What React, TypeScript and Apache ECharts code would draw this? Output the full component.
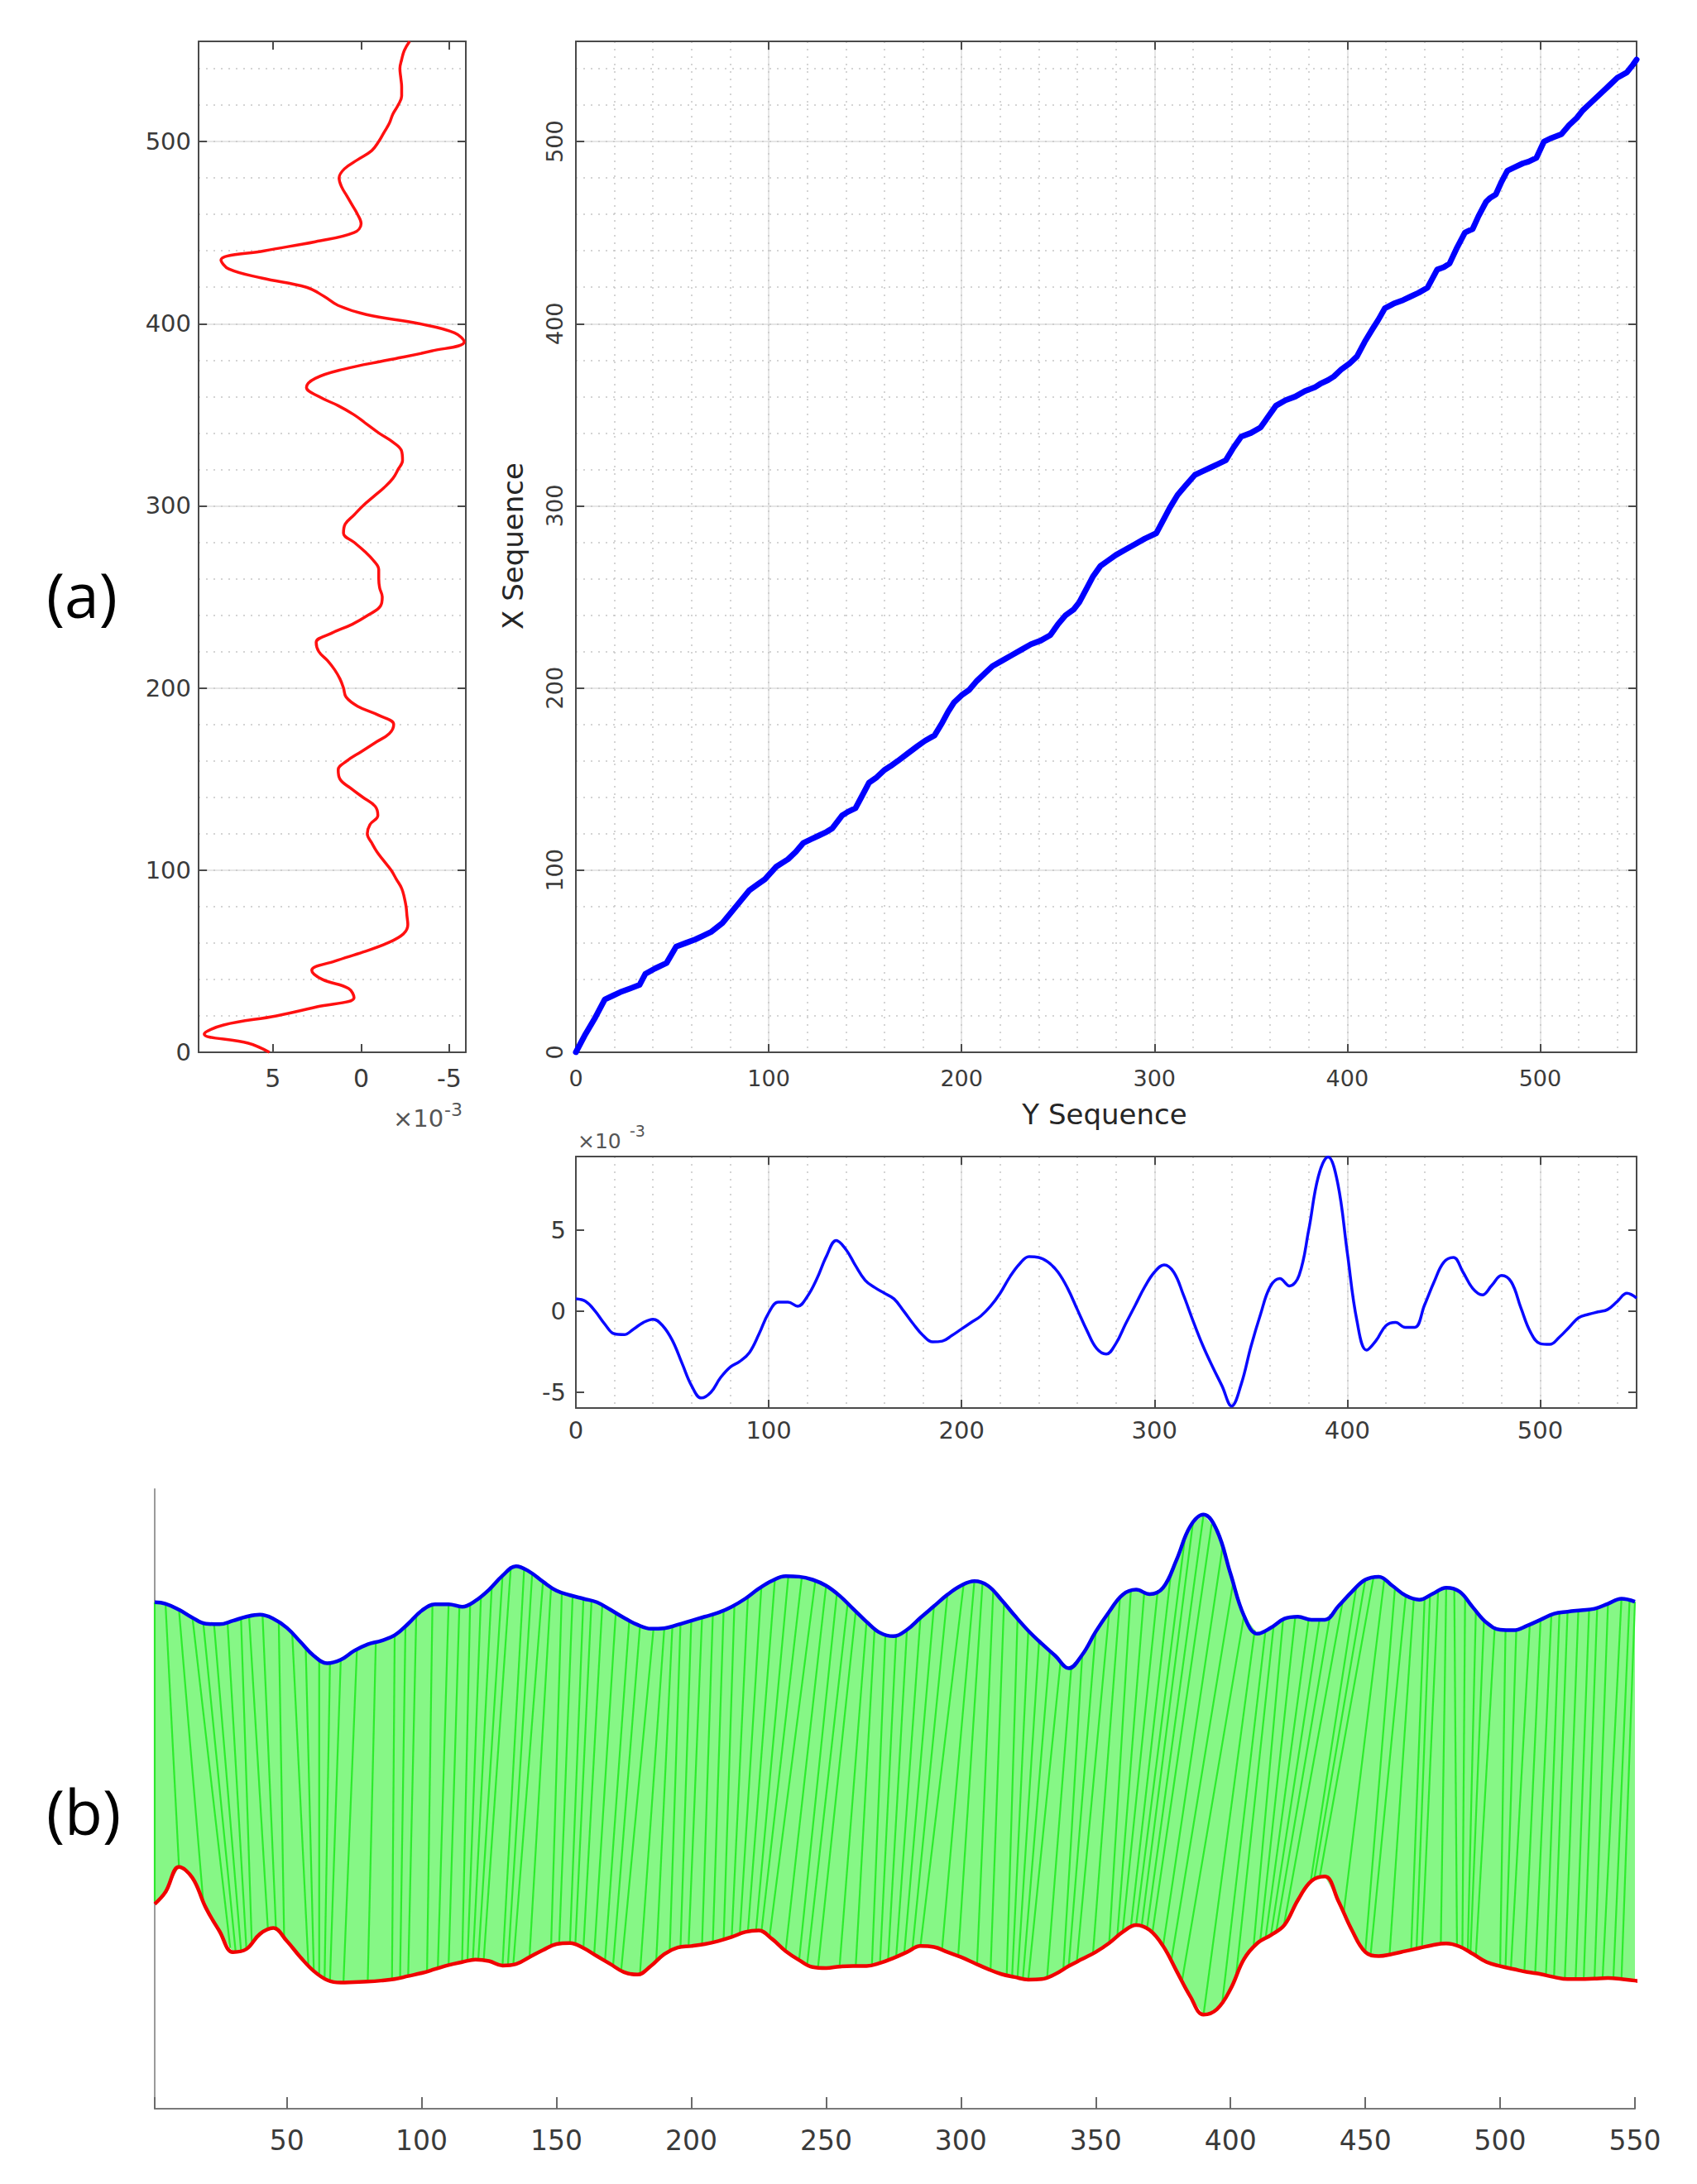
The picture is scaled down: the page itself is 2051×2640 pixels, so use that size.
import React, { useEffect, useRef } from 'react';
import * as echarts from 'echarts';

// ---- data (values in units of 1e-3) ----
const STEP = 5; // sample spacing of the two signals (sequence index)

// Y sequence (blue), sampled at index 0,5,...,550
const BLUE_Y = [
  0.75, 0.6, 0.0, -0.8, -1.4, -1.45, -1.1, -0.7, -0.5, -0.9,
  -1.8, -3.2, -4.6, -5.35, -5.0, -4.1, -3.45, -3.1, -2.55, -1.4,
  -0.1, 0.55, 0.55, 0.3, 0.9, 2.0, 3.4, 4.35, 3.8, 2.8,
  1.9, 1.45, 1.1, 0.75, 0.0, -0.8, -1.5, -1.9, -1.85, -1.5,
  -1.1, -0.7, -0.3, 0.3, 1.1, 2.1, 2.9, 3.35, 3.3, 3.0,
  2.4, 1.4, 0.1, -1.2, -2.3, -2.65, -2.0, -0.8, 0.35, 1.5,
  2.4, 2.85, 2.4, 1.0, -0.6, -2.1, -3.4, -4.6, -5.85, -4.5,
  -2.2, -0.2, 1.5, 2.0, 1.55, 2.2, 5.0, 8.3, 9.5, 7.9,
  3.6, -0.6, -2.4, -1.8, -0.9, -0.7, -1.0, -1.0, 0.36, 1.8,
  3.0, 3.3, 2.4, 1.4, 1.0, 1.6, 2.2, 1.8, 0.2, -1.3,
  -2.0, -2.05, -1.6, -1.0, -0.4, -0.2, -0.05, 0.1, 0.6, 1.1,
  0.8,
];

// X sequence (red), sampled at index 0,5,...,555
const RED_X = [
  5.2, 6.4, 8.9, 7.8, 4.8, 2.5, 0.4, 0.7, 2.2, 2.8,
  1.5, -0.1, -1.5, -2.4, -2.65, -2.6, -2.55, -2.45, -2.3, -2.0,
  -1.7, -1.3, -0.9, -0.6, -0.35, -0.5, -0.95, -0.8, -0.1, 0.6,
  1.2, 1.3, 0.8, 0.0, -0.8, -1.6, -1.85, -1.0, 0.2, 0.85,
  1.0, 1.2, 1.5, 1.9, 2.4, 2.55, 1.7, 0.5, -0.4, -1.1,
  -1.2, -1.05, -1.0, -1.0, -0.7, -0.2, 0.4, 1.0, 0.9, 0.4,
  -0.1, -0.7, -1.3, -1.8, -2.1, -2.35, -2.3, -1.8, -1.0, -0.3,
  0.4, 1.3, 2.4, 3.1, 2.6, 1.0, -1.5, -4.0, -5.85, -5.3,
  -3.3, -0.3, 1.3, 2.1, 3.1, 5.6, 7.5, 7.95, 5.5, 2.6,
  0.4, 0.0, 0.2, 0.5, 0.8, 1.1, 1.25, 0.95, 0.2, -0.6,
  -1.0, -1.3, -1.6, -1.8, -2.1, -2.3, -2.3, -2.25, -2.2, -2.3,
  -2.45, -2.75,
];

// warping path: [Y-sequence index, X-sequence index]
const PATH: number[][] = [
  [0, 0], [5, 10], [10, 19], [15, 29], [19, 31], [23, 33], [28, 35], [33, 37], [36, 43], [41, 46],
  [47, 49], [52, 58], [57, 60], [62, 62], [66, 64], [70, 66], [76, 71], [83, 80], [90, 89], [94, 92],
  [98, 95], [104, 102], [110, 106], [114, 110], [118, 115], [122, 117], [126, 119], [130, 121], [133, 123], [138, 130],
  [141, 132], [145, 134], [148, 140], [152, 148], [156, 151], [160, 155], [163, 157], [167, 160], [172, 164], [177, 168],
  [181, 171], [186, 174], [190, 181], [193, 187], [196, 192], [200, 196], [204, 199], [208, 204], [212, 208], [216, 212],
  [221, 215], [226, 218], [231, 221], [236, 224], [241, 226], [246, 229], [250, 235], [254, 240], [258, 243], [261, 247],
  [265, 255], [268, 261], [272, 267], [276, 270], [280, 273], [285, 276], [290, 279], [295, 282], [301, 285], [305, 293],
  [308, 299], [312, 306], [316, 311], [321, 317], [325, 319], [329, 321], [333, 323], [337, 325], [341, 332], [345, 338],
  [350, 340], [355, 343], [359, 349], [363, 355], [368, 358], [373, 360], [378, 363], [383, 365], [386, 367], [390, 369],
  [393, 371], [397, 375], [401, 378], [405, 382], [409, 390], [413, 397], [416, 402], [419.5, 408.5], [424, 411], [429, 413],
  [433, 415], [437, 417], [441.6, 419.8], [446.6, 429.7], [450, 431], [453, 433], [457, 442], [461, 450], [465, 452], [468, 459],
  [472, 467], [474, 469], [477, 471], [480, 478], [483, 484], [487, 486], [491, 488], [494, 489], [498, 491], [502, 500],
  [506, 502], [511, 504], [515, 509], [519, 513], [522, 517], [525, 520], [529, 524], [533, 528], [536, 531], [540, 535],
  [545, 538], [548, 542], [550, 545],
];

const B_OFFSET = 34.6; // vertical offset of the Y sequence in panel (b)

// ---- helpers ----
const idxOf = (arr: number[]) => arr.map((_, k) => k * STEP);
const valueAt = (vals: number[], idx: number) => {
  const k = idx / STEP;
  const k0 = Math.max(0, Math.min(vals.length - 1, Math.floor(k)));
  const k1 = Math.min(vals.length - 1, k0 + 1);
  const t = k - k0;
  return vals[k0] * (1 - t) + vals[k1] * t;
};
const multOf = (step: number) => (v: number) =>
  Math.abs(v / step - Math.round(v / step)) < 1e-6 ? String(Math.round(v)) : '';

const AX = '#4a4a4a';
const TXT = '#3a3a3a';
const FONT = 'DejaVu Sans';
const MAJOR = { show: true, lineStyle: { color: '#dedede', width: 1.5, type: 'solid' as const } };
const MINOR = { show: true, lineStyle: { color: '#c6c6c6', width: 1.5, type: [2, 7] } };
const line = { show: true, onZero: false, lineStyle: { color: AX, width: 2 } };
const tick = { show: true, inside: true, length: 10, lineStyle: { color: AX, width: 2 } };
const noLabel = { show: false };
const lbl = (size: number, margin: number, extra: any = {}) => ({
  show: true, color: TXT, fontSize: size, fontFamily: FONT, margin, ...extra,
});
const hidden = {
  axisLine: { show: false }, axisTick: { show: false }, axisLabel: { show: false },
};

export default function App() {
  const ref = useRef<HTMLDivElement>(null);
  useEffect(() => {
    if (!ref.current) return;
    const chart = echarts.init(ref.current, null, { renderer: 'svg' });
    const blueIdx = idxOf(BLUE_Y);
    const redIdx = idxOf(RED_X);

    const leftX = {
      gridIndex: 0, type: 'value', inverse: true, min: -5.94, max: 9.22,
      splitNumber: 3, minInterval: 5, maxInterval: 5,
    };
    const mainX = { type: 'value', min: 0, max: 550, interval: 100 };
    const seqY = { type: 'value', min: 0, max: 555, interval: 100 };
    const sigY = { gridIndex: 2, type: 'value', min: -5.97, max: 9.52, splitNumber: 3, minInterval: 5, maxInterval: 5 };

    const option: any = {
      animation: false,
      backgroundColor: '#ffffff',
      grid: [
        { left: 240, top: 50, width: 323, height: 1222 },
        { left: 696, top: 50, width: 1282, height: 1222 },
        { left: 696, top: 1398, width: 1282, height: 304 },
        { left: 187, top: 1800, width: 1789, height: 749 },
      ],
      xAxis: [
        { ...leftX, position: 'bottom', axisLine: line, axisTick: tick, splitLine: { show: false },
          axisLabel: lbl(30, 16, { formatter: multOf(5) }) },
        { ...leftX, position: 'top', axisLine: line, axisTick: tick, splitLine: { show: false }, axisLabel: noLabel },
        { ...mainX, gridIndex: 1, position: 'bottom', axisLine: line, axisTick: tick, splitLine: MAJOR,
          axisLabel: lbl(27, 18, { formatter: multOf(100) }) },
        { ...mainX, gridIndex: 1, position: 'top', axisLine: line, axisTick: tick, splitLine: { show: false }, axisLabel: noLabel },
        { ...mainX, gridIndex: 1, interval: 20, position: 'bottom', ...hidden, splitLine: MINOR },
        { ...mainX, gridIndex: 2, position: 'bottom', axisLine: line, axisTick: tick, splitLine: MAJOR,
          axisLabel: lbl(29, 12, { formatter: multOf(100) }) },
        { ...mainX, gridIndex: 2, position: 'top', axisLine: line, axisTick: tick, splitLine: { show: false }, axisLabel: noLabel },
        { ...mainX, gridIndex: 2, interval: 20, position: 'bottom', ...hidden, splitLine: MINOR },
        { gridIndex: 3, type: 'value', min: 1, max: 550, splitNumber: 11, minInterval: 50, maxInterval: 50,
          position: 'bottom',
          axisLine: { show: true, onZero: false, lineStyle: { color: '#7a7a7a', width: 2 } },
          axisTick: { show: true, inside: true, length: 14, lineStyle: { color: '#6a6a6a', width: 2 } },
          splitLine: { show: false },
          axisLabel: lbl(33, 22, { formatter: multOf(50) }) },
      ],
      yAxis: [
        { ...seqY, gridIndex: 0, position: 'left', axisLine: line, axisTick: tick, splitLine: MAJOR,
          axisLabel: lbl(29, 9, { formatter: multOf(100) }) },
        { ...seqY, gridIndex: 0, position: 'right', axisLine: line, axisTick: tick, splitLine: { show: false }, axisLabel: noLabel },
        { ...seqY, gridIndex: 0, interval: 20, position: 'left', ...hidden, splitLine: MINOR },
        { ...seqY, gridIndex: 1, position: 'left', axisLine: line, axisTick: tick, splitLine: MAJOR,
          axisLabel: lbl(27, 12, { formatter: multOf(100), rotate: 90 }) },
        { ...seqY, gridIndex: 1, position: 'right', axisLine: line, axisTick: tick, splitLine: { show: false }, axisLabel: noLabel },
        { ...seqY, gridIndex: 1, interval: 20, position: 'left', ...hidden, splitLine: MINOR },
        { ...sigY, position: 'left', axisLine: line, axisTick: tick, splitLine: { show: false },
          axisLabel: lbl(29, 12, { formatter: multOf(5) }) },
        { ...sigY, position: 'right', axisLine: line, axisTick: tick, splitLine: { show: false }, axisLabel: noLabel },
        { gridIndex: 3, type: 'value', min: -15.25, max: 46.65, position: 'left',
          axisLine: { show: true, onZero: false, lineStyle: { color: '#9a9a9a', width: 2 } },
          axisTick: { show: false }, axisLabel: { show: false }, splitLine: { show: false } },
      ],
      series: [
        {
          name: 'X sequence', type: 'line', xAxisIndex: 0, yAxisIndex: 0,
          data: RED_X.map((v, k) => [v, redIdx[k]]), smooth: 0.4, showSymbol: false,
          lineStyle: { color: '#ff1010', width: 3.5 },
        },
        {
          name: 'warping path', type: 'line', xAxisIndex: 2, yAxisIndex: 3,
          data: PATH, showSymbol: false, lineStyle: { color: '#0000ff', width: 7, join: 'round', cap: 'round' },
        },
        {
          name: 'Y sequence', type: 'line', xAxisIndex: 5, yAxisIndex: 6,
          data: BLUE_Y.map((v, k) => [blueIdx[k], v]), smooth: 0.4, showSymbol: false,
          lineStyle: { color: '#0a0aff', width: 3.5 },
        },
        {
          name: 'band', type: 'custom', xAxisIndex: 8, yAxisIndex: 8, z: 1,
          data: [[1, 0]],
          renderItem: (params: any, api: any) => {
            const pts: number[][] = [];
            BLUE_Y.forEach((v, k) => pts.push(api.coord([Math.max(1, blueIdx[k]), v + B_OFFSET])));
            for (let k = RED_X.length - 1; k >= 0; k--) {
              if (redIdx[k] > 550) continue;
              pts.push(api.coord([Math.max(1, redIdx[k]), RED_X[k]]));
            }
            return { type: 'polygon', shape: { points: pts }, style: { fill: '#86f786' } };
          },
        },
        {
          name: 'links', type: 'custom', xAxisIndex: 8, yAxisIndex: 8, z: 2,
          data: PATH,
          renderItem: (params: any, api: any) => {
            const yi = Math.max(1, api.value(0));
            const xi = Math.max(1, api.value(1));
            const p1 = api.coord([yi, valueAt(BLUE_Y, yi) + B_OFFSET]);
            const p2 = api.coord([xi, valueAt(RED_X, xi)]);
            return {
              type: 'line',
              shape: { x1: p1[0], y1: p1[1], x2: p2[0], y2: p2[1] },
              style: { stroke: '#22ea22', lineWidth: 2.2, opacity: 0.9 },
            };
          },
        },
        {
          name: 'Y sequence (b)', type: 'line', xAxisIndex: 8, yAxisIndex: 8, z: 3,
          data: BLUE_Y.map((v, k) => [Math.max(1, blueIdx[k]), v + B_OFFSET]), smooth: 0.4, showSymbol: false,
          lineStyle: { color: '#0000f0', width: 4.5 },
        },
        {
          name: 'X sequence (b)', type: 'line', xAxisIndex: 8, yAxisIndex: 8, z: 3,
          data: RED_X.map((v, k) => [Math.max(1, redIdx[k]), v]), smooth: 0.4, showSymbol: false, clip: true,
          lineStyle: { color: '#f00000', width: 4.5 },
        },
      ],
      graphic: [
        { type: 'text', left: 56, top: 680, style: { text: '(a)', font: '75px "Open Sans"', fill: '#000' } },
        { type: 'text', left: 56, top: 2151, style: { text: '(b)', font: '75px "Open Sans"', fill: '#000' } },
        { type: 'text', x: 1335, y: 1347, style: { text: 'Y Sequence', font: '34px "DejaVu Sans"', fill: '#262626', align: 'center', verticalAlign: 'middle' } },
        { type: 'text', x: 620, y: 660, rotation: Math.PI / 2, style: { text: 'X Sequence', font: '34px "DejaVu Sans"', fill: '#262626', align: 'center', verticalAlign: 'middle' } },
        { type: 'text', x: 475, y: 1352, style: { text: '×10', font: '29px "DejaVu Sans"', fill: '#555', verticalAlign: 'middle' } },
        { type: 'text', x: 537, y: 1341, style: { text: '-3', font: '22px "DejaVu Sans"', fill: '#555', verticalAlign: 'middle' } },
        { type: 'text', x: 698, y: 1379, style: { text: '×10', font: '25px "DejaVu Sans"', fill: '#555', verticalAlign: 'middle' } },
        { type: 'text', x: 761, y: 1367, style: { text: '-3', font: '19px "DejaVu Sans"', fill: '#555', verticalAlign: 'middle' } },
      ],
    };
    chart.setOption(option);
    return () => chart.dispose();
  }, []);
  return <div ref={ref} style={{ position: 'absolute', left: 0, top: 0, width: 2051, height: 2640 }} />;
}
